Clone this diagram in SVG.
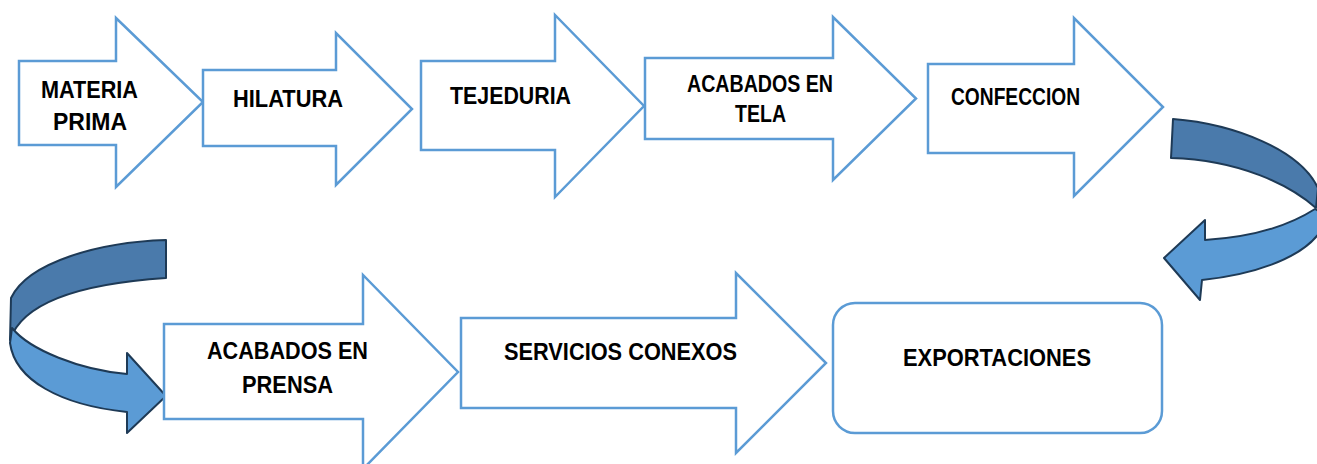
<svg xmlns="http://www.w3.org/2000/svg" width="1317" height="464" viewBox="0 0 1317 464">
<style>
.box{fill:#ffffff;stroke:#5b9bd5;stroke-width:2.5;stroke-linejoin:miter}
.t{font-family:"Liberation Sans",Arial,sans-serif;font-weight:bold;font-size:24px;fill:#000;text-anchor:middle}
.dk{fill:#4a7aab;stroke:#1e3a56;stroke-width:2;stroke-linejoin:round}
.lt{fill:#5b9bd5;stroke:#1e3a56;stroke-width:2;stroke-linejoin:round}
</style>
<rect width="1317" height="464" fill="#ffffff"/>
<g id="connectors">
  <g id="curve-right">
    <path class="lt" d="M1315,209 C1290,225 1255,237 1205,240 L1205,220 L1164,258 L1200,300 L1202,280 C1250,275 1300,260 1320,232 L1320,212 Z"/>
    <path class="dk" d="M1173,119 C1235,124 1300,150 1318,188 L1316,208 C1290,185 1240,160 1171,158 Z"/>
  </g>
  <g id="curve-left">
    <path class="dk" d="M166,240 C100,242 28,262 11,298 L10,340 C20,310 60,285 166,278 Z"/>
    <path class="lt" d="M12,328 C30,350 80,370 127,374 L127,353 L166,396 L127,433 L127,412 C60,405 15,380 10,343 Z"/>
  </g>
</g>
<g id="n1">
  <polygon class="box" points="19,61 116,61 116,18 203,102 116,187 116,145 19,145"/>
  <text class="t" x="89.5" y="97.5" textLength="97" lengthAdjust="spacingAndGlyphs">MATERIA</text>
  <text class="t" x="90" y="130" textLength="74" lengthAdjust="spacingAndGlyphs">PRIMA</text>
</g>
<g id="n2">
  <polygon class="box" points="203,70 336,70 336,33 412,109 336,185 336,146 203,146"/>
  <text class="t" x="288" y="106.5" textLength="110" lengthAdjust="spacingAndGlyphs">HILATURA</text>
</g>
<g id="n3">
  <polygon class="box" points="421,61 555,61 555,15 644,106 555,197 555,150 421,150"/>
  <text class="t" x="510.5" y="103.5" textLength="121" lengthAdjust="spacingAndGlyphs">TEJEDURIA</text>
</g>
<g id="n4">
  <polygon class="box" points="645,58 833,58 833,17 916,98.5 833,180 833,139 645,139"/>
  <text class="t" x="760" y="92" textLength="146" lengthAdjust="spacingAndGlyphs">ACABADOS EN</text>
  <text class="t" x="760.5" y="121.5" textLength="51" lengthAdjust="spacingAndGlyphs">TELA</text>
</g>
<g id="n5">
  <polygon class="box" points="928,64 1074,64 1074,18 1163,107 1074,196 1074,153 928,153"/>
  <text class="t" x="1015.5" y="105" textLength="129" lengthAdjust="spacingAndGlyphs">CONFECCION</text>
</g>
<g id="n6">
  <polygon class="box" points="164,324 363,324 363,275 458,372 363,469 363,419 164,419"/>
  <text class="t" x="287.5" y="359" textLength="161" lengthAdjust="spacingAndGlyphs">ACABADOS EN</text>
  <text class="t" x="287.5" y="392.5" textLength="91" lengthAdjust="spacingAndGlyphs">PRENSA</text>
</g>
<g id="n7">
  <polygon class="box" points="461,318 736,318 736,273 826,363 736,453 736,408 461,408"/>
  <text class="t" x="620.5" y="360" textLength="233" lengthAdjust="spacingAndGlyphs">SERVICIOS CONEXOS</text>
</g>
<g id="n8">
  <rect class="box" x="833" y="303" width="329" height="130" rx="22" ry="22"/>
  <text class="t" x="997" y="366" textLength="188" lengthAdjust="spacingAndGlyphs">EXPORTACIONES</text>
</g>
</svg>
